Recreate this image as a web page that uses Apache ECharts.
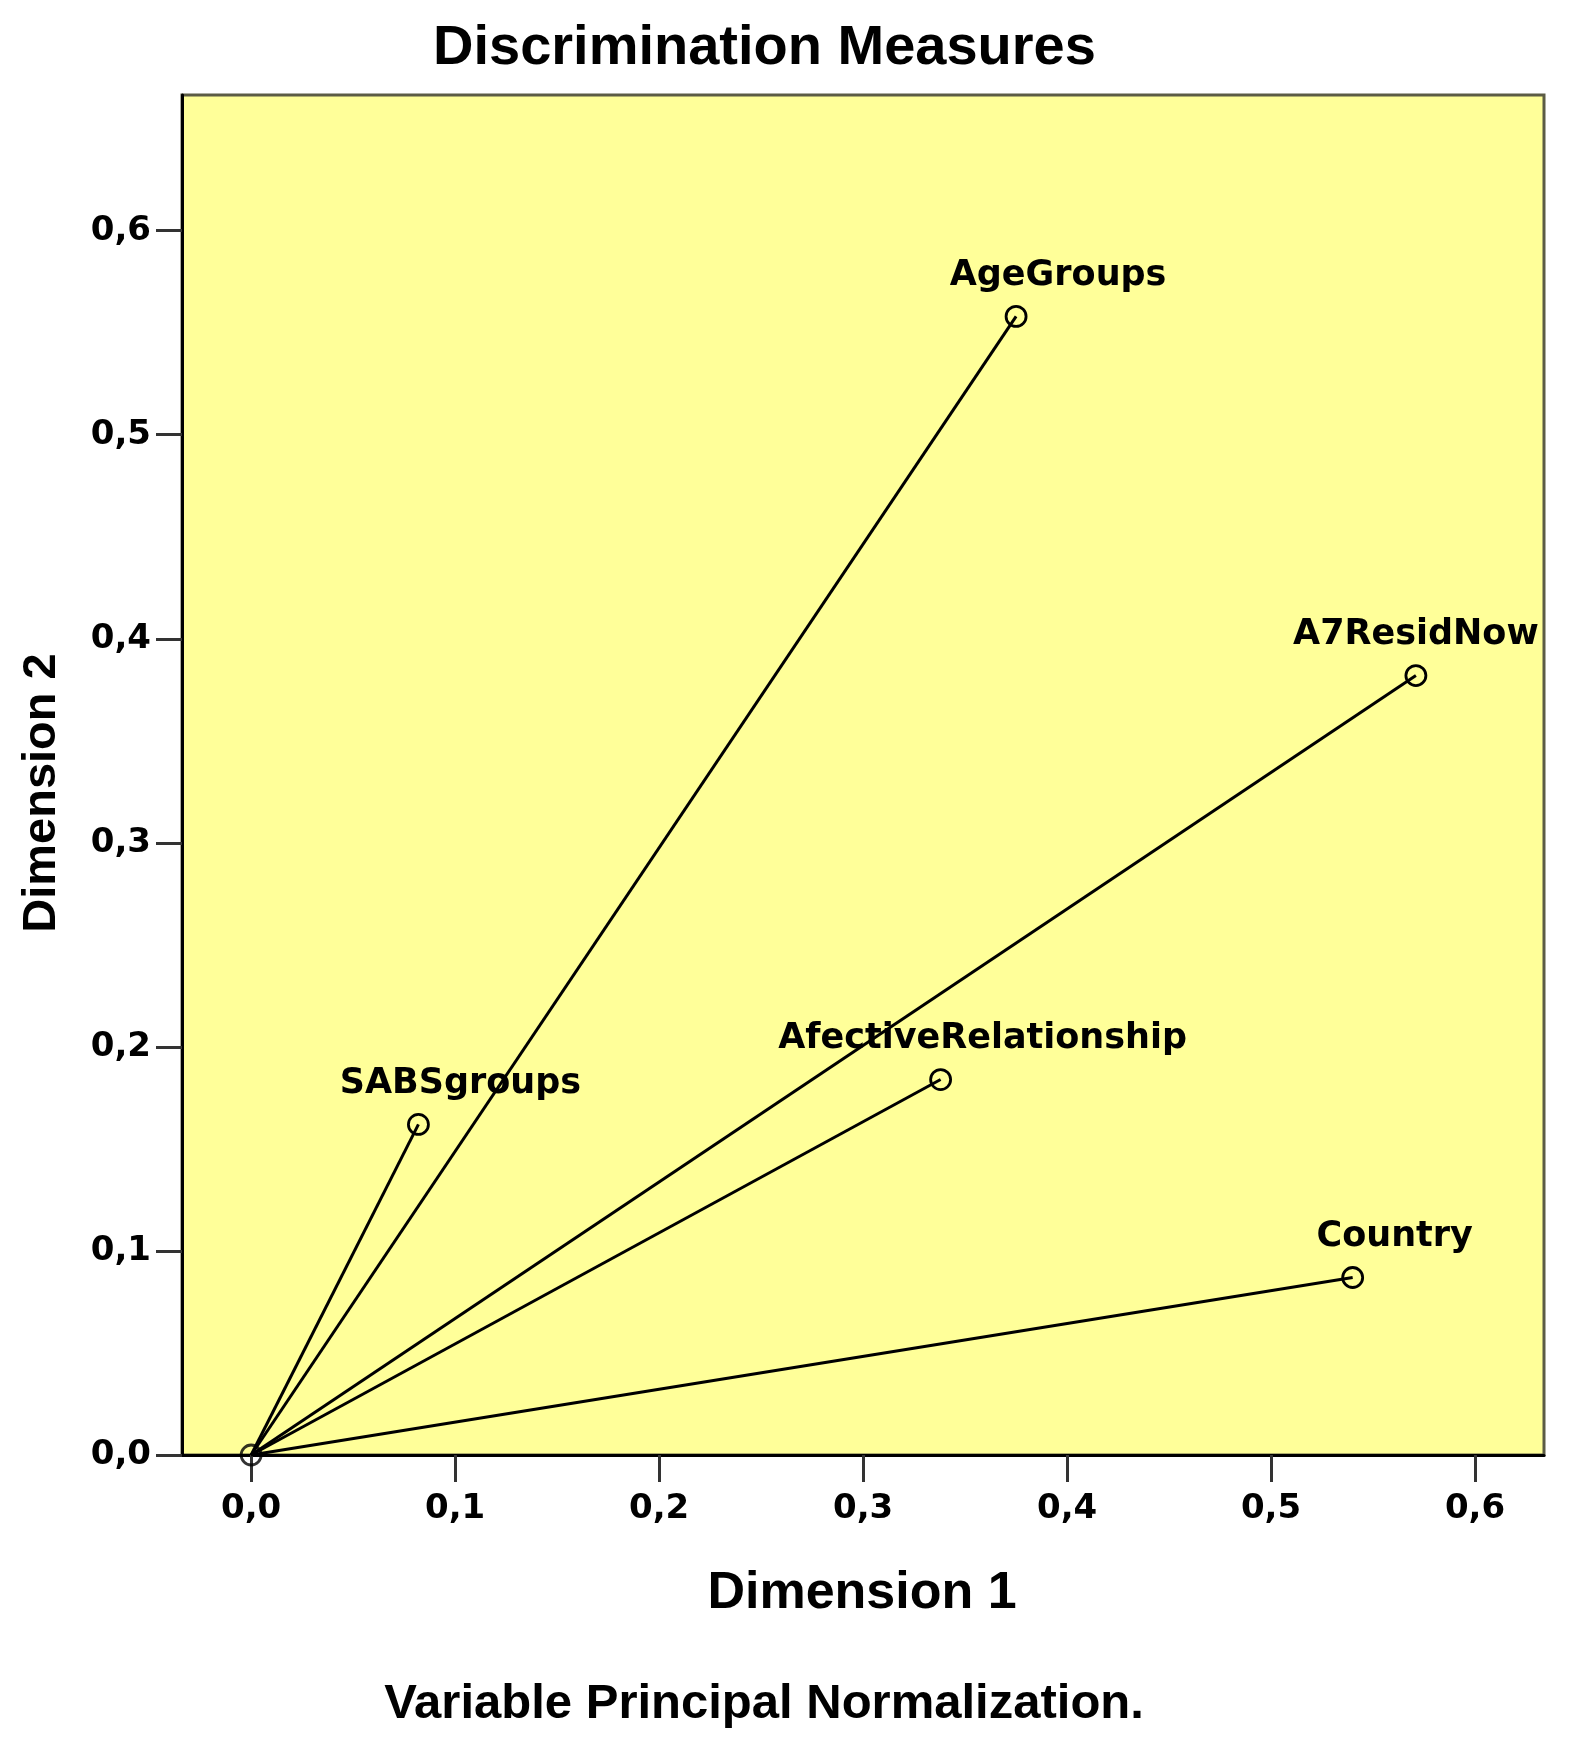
<!DOCTYPE html>
<html><head><meta charset="utf-8">
<script src="https://cdn.jsdelivr.net/npm/echarts@6/dist/echarts.min.js"></script>
<style>html,body{margin:0;padding:0;background:#fff}#c{width:1570px;height:1749px}</style>
</head><body><div id="c"></div>
<script>
// ---- data ----
const variables = ['AgeGroups', 'A7ResidNow', 'AfectiveRelationship', 'SABSgroups', 'Country'];
const dimension1 = [0.375, 0.571, 0.338, 0.082, 0.540];
const dimension2 = [0.558, 0.382, 0.184, 0.162, 0.087];
const tickValues = [0, 0.1, 0.2, 0.3, 0.4, 0.5, 0.6];
const titleText = 'Discrimination Measures';
const xTitle = 'Dimension 1';
const yTitle = 'Dimension 2';
const footnote = 'Variable Principal Normalization.';

// ---- styling ----
const labelShiftX = { AgeGroups: 42, A7ResidNow: 0, AfectiveRelationship: 42, SABSgroups: 42, Country: 42 };
const tickFont = { fontFamily: 'DejaVu Sans', fontWeight: 'bold', fontSize: 34, color: '#000' };
const fmt = v => v.toFixed(1).replace('.', ',');
const markerStyle = { color: 'rgba(0,0,0,0)', borderColor: '#000', borderWidth: 2.8 };

const series = variables.map((name, i) => ({
  type: 'line',
  name: name,
  data: [
    { value: [0, 0], symbol: 'none' },
    {
      value: [dimension1[i], dimension2[i]],
      symbol: 'circle',
      label: {
        show: true, formatter: name, position: 'top', distance: 12,
        offset: [labelShiftX[name], 0],
        fontFamily: 'DejaVu Sans', fontWeight: 'bold', fontSize: 35, color: '#000'
      }
    }
  ],
  showSymbol: true,
  symbolSize: 20,
  lineStyle: { color: '#000', width: 3 },
  itemStyle: markerStyle,
  z: 3
}));
series.push({
  type: 'scatter',
  data: [[0, 0]],
  symbol: 'circle',
  symbolSize: 20,
  itemStyle: markerStyle,
  z: 2
});

const chart = echarts.init(document.getElementById('c'), null, { renderer: 'canvas' });
chart.setOption({
  animation: false,
  backgroundColor: '#ffffff',
  title: {
    text: titleText, left: 428, top: 16,
    textStyle: { fontFamily: 'Liberation Sans', fontWeight: 'bold', fontSize: 56, color: '#000' }
  },
  grid: {
    left: 182, right: 26, top: 95, bottom: 294,
    show: true, backgroundColor: '#ffff99', borderColor: '#5c5c45', borderWidth: 3
  },
  xAxis: {
    type: 'value', min: -0.0339, max: 0.6338,
    axisLine: { show: true, onZero: false, lineStyle: { color: '#000', width: 3 } },
    axisTick: { show: true, inside: false, customValues: tickValues, length: 27, lineStyle: { color: '#333', width: 3 } },
    axisLabel: Object.assign({ customValues: tickValues, formatter: fmt, margin: 37 }, tickFont),
    splitLine: { show: false }
  },
  yAxis: {
    type: 'value', min: 0, max: 0.6665,
    axisLine: { show: true, onZero: false, lineStyle: { color: '#000', width: 3 } },
    axisTick: { show: true, inside: false, customValues: tickValues, length: 26, lineStyle: { color: '#333', width: 3 } },
    axisLabel: Object.assign({ customValues: tickValues, formatter: fmt, margin: 31 }, tickFont),
    splitLine: { show: false }
  },
  graphic: [
    { type: 'text', x: 862, y: 1594, style: { text: xTitle, font: 'bold 52px "Liberation Sans"', fill: '#000', textAlign: 'center', textVerticalAlign: 'middle' } },
    { type: 'text', x: 42, y: 793, rotation: Math.PI / 2, style: { text: yTitle, font: 'bold 47px "Liberation Sans"', fill: '#000', textAlign: 'center', textVerticalAlign: 'middle' } },
    { type: 'text', x: 764, y: 1704, style: { text: footnote, font: 'bold 49px "Liberation Sans"', fill: '#000', textAlign: 'center', textVerticalAlign: 'middle' } }
  ],
  series: series
});
</script>
</body></html>
